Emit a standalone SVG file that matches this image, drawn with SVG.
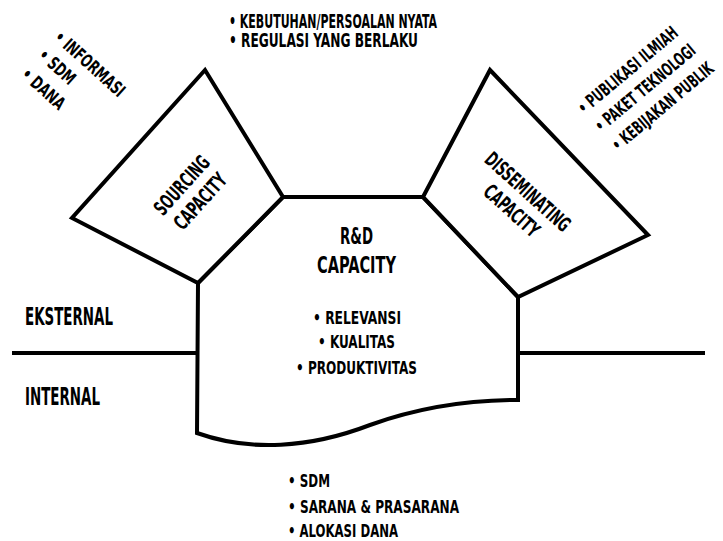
<svg xmlns="http://www.w3.org/2000/svg" width="723" height="541" viewBox="0 0 723 541">
<style>
.shape{fill:#fff;stroke:#000;stroke-width:4;stroke-linejoin:miter}
.line{fill:none;stroke:#000;stroke-width:4}
text{font-family:"Liberation Sans Narrow","DejaVu Sans Condensed","Liberation Sans",sans-serif;font-weight:bold;fill:#000}
.s13{font-size:18px}
.s14{font-size:19px}
.s15{font-size:20.5px}
.s17{font-size:23.5px}
.s18{font-size:25px}
.m{text-anchor:middle}
</style>
<rect width="723" height="541" fill="#fff"/>
<g id="connectors">
<line class="line" x1="12" y1="353" x2="197" y2="353"/>
<line class="line" x1="518" y1="353" x2="705" y2="353"/>
</g>
<g id="rd-capacity">
<path class="shape" d="M283,197 L423,197 L518,297 L518,400 C470,400 420,407 370,425 C310,448 250,452 197,433 L198,283 Z"/>
<text class="s17 m" x="356.5" y="244" textLength="33" lengthAdjust="spacingAndGlyphs">R&amp;D</text>
<text class="s17 m" x="356.5" y="273" textLength="79" lengthAdjust="spacingAndGlyphs">CAPACITY</text>
<text class="s13" x="313" y="324" textLength="88" lengthAdjust="spacingAndGlyphs">• RELEVANSI</text>
<text class="s13" x="318" y="348" textLength="77" lengthAdjust="spacingAndGlyphs">• KUALITAS</text>
<text class="s13" x="296" y="374" textLength="121" lengthAdjust="spacingAndGlyphs">• PRODUKTIVITAS</text>
</g>
<g id="sourcing-capacity">
<polygon class="shape" points="205,70 283,197 198,283 72,218"/>
<text class="s15 m" transform="translate(187,190) rotate(-48)" textLength="72" lengthAdjust="spacingAndGlyphs">SOURCING</text>
<text class="s15 m" transform="translate(205.5,206) rotate(-48)" textLength="68" lengthAdjust="spacingAndGlyphs">CAPACITY</text>
</g>
<g id="disseminating-capacity">
<polygon class="shape" points="490,70 648,235 518,297 423,197"/>
<text class="s15 m" transform="translate(523,197) rotate(42)" textLength="107" lengthAdjust="spacingAndGlyphs">DISSEMINATING</text>
<text class="s15 m" transform="translate(507,216) rotate(42)" textLength="67" lengthAdjust="spacingAndGlyphs">CAPACITY</text>
</g>
<g id="inputs-list">
<text class="s13" transform="translate(53,39) rotate(42)" textLength="88" lengthAdjust="spacingAndGlyphs">• INFORMASI</text>
<text class="s13" transform="translate(37,57) rotate(42)" textLength="43" lengthAdjust="spacingAndGlyphs">• SDM</text>
<text class="s13" transform="translate(20,76) rotate(42)" textLength="52" lengthAdjust="spacingAndGlyphs">• DANA</text>
</g>
<g id="needs-list">
<text class="s14" x="229" y="28" textLength="208" lengthAdjust="spacingAndGlyphs">• KEBUTUHAN/PERSOALAN NYATA</text>
<text class="s14" x="229" y="47" textLength="189" lengthAdjust="spacingAndGlyphs">• REGULASI YANG BERLAKU</text>
</g>
<g id="outputs-list">
<text class="s13" transform="translate(584,115) rotate(-40) scale(0.7,1)" textLength="178" lengthAdjust="spacingAndGlyphs">• PUBLIKASI ILMIAH</text>
<text class="s13" transform="translate(601,133) rotate(-40) scale(0.7,1)" textLength="179" lengthAdjust="spacingAndGlyphs">• PAKET TEKNOLOGI</text>
<text class="s13" transform="translate(618,152) rotate(-40) scale(0.7,1)" textLength="181" lengthAdjust="spacingAndGlyphs">• KEBIJAKAN PUBLIK</text>
</g>
<g id="eksternal-label">
<text class="s18" x="25" y="325" textLength="88" lengthAdjust="spacingAndGlyphs">EKSTERNAL</text>
</g>
<g id="internal-label">
<text class="s18" x="25" y="405" textLength="75" lengthAdjust="spacingAndGlyphs">INTERNAL</text>
</g>
<g id="resources-list">
<text class="s13" x="288" y="487" textLength="42" lengthAdjust="spacingAndGlyphs">• SDM</text>
<text class="s13" x="288" y="513" textLength="171" lengthAdjust="spacingAndGlyphs">• SARANA &amp; PRASARANA</text>
<text class="s13" x="288" y="537" textLength="110" lengthAdjust="spacingAndGlyphs">• ALOKASI DANA</text>
</g>
</svg>
